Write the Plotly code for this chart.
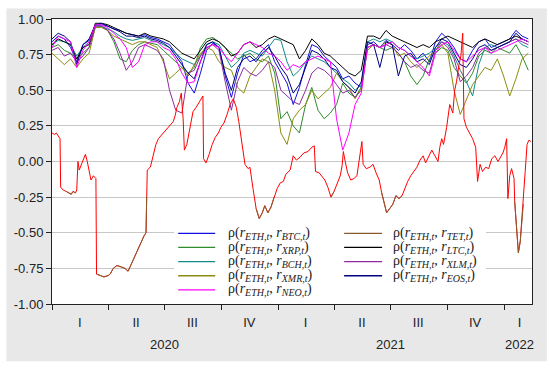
import numpy as np
import pandas as pd
import plotly.graph_objects as go

start = pd.Timestamp("2020-01-01")
end = "2022-02-15"
grid_dates = pd.date_range(start, periods=78, freq="10D")

btc = [0.84,0.88,0.86,0.80,0.70,0.82,0.85,0.95,0.96,0.95,
       0.93,0.92,0.90,0.89,0.88,0.89,0.87,0.86,0.84,0.82,
       0.76,0.70,0.55,0.48,0.62,0.78,0.83,0.80,0.60,0.45,
       0.62,0.75,0.70,0.72,0.78,0.82,0.70,0.62,0.55,0.40,
       0.52,0.68,0.82,0.80,0.74,0.70,0.66,0.58,0.60,0.55,
       0.52,0.82,0.84,0.80,0.85,0.82,0.78,0.82,0.78,0.72,
       0.76,0.70,0.84,0.90,0.86,0.80,0.72,0.70,0.78,0.84,
       0.86,0.80,0.82,0.84,0.86,0.92,0.88,0.86]
xrp = [0.80,0.82,0.78,0.76,0.72,0.76,0.80,0.94,0.95,0.92,
       0.84,0.72,0.70,0.78,0.82,0.84,0.83,0.82,0.78,0.74,
       0.70,0.66,0.62,0.66,0.80,0.86,0.87,0.84,0.80,0.76,
       0.72,0.74,0.76,0.72,0.70,0.74,0.62,0.30,0.35,0.25,
       0.20,0.40,0.52,0.36,0.30,0.34,0.40,0.55,0.48,0.45,
       0.52,0.80,0.82,0.80,0.78,0.80,0.76,0.70,0.60,0.54,
       0.60,0.72,0.76,0.80,0.78,0.66,0.60,0.55,0.62,0.74,
       0.78,0.76,0.80,0.78,0.76,0.82,0.74,0.64]
bch = [0.82,0.85,0.84,0.82,0.74,0.80,0.84,0.96,0.95,0.93,
       0.91,0.88,0.86,0.85,0.86,0.87,0.85,0.84,0.82,0.80,
       0.76,0.72,0.70,0.68,0.74,0.82,0.84,0.82,0.74,0.66,
       0.70,0.76,0.78,0.76,0.74,0.80,0.86,0.85,0.70,0.60,
       0.64,0.70,0.74,0.72,0.70,0.66,0.62,0.58,0.55,0.50,
       0.54,0.84,0.86,0.84,0.86,0.84,0.80,0.78,0.74,0.72,
       0.74,0.76,0.80,0.84,0.82,0.74,0.64,0.56,0.46,0.68,
       0.80,0.82,0.80,0.82,0.84,0.86,0.82,0.80]
xmr = [0.76,0.72,0.68,0.72,0.66,0.72,0.76,0.94,0.94,0.92,
       0.88,0.86,0.84,0.82,0.84,0.84,0.82,0.80,0.70,0.58,
       0.62,0.66,0.60,0.68,0.76,0.80,0.78,0.70,0.66,0.64,
       0.52,0.48,0.60,0.66,0.72,0.70,0.50,0.20,0.12,0.30,
       0.36,0.40,0.50,0.44,0.48,0.52,0.62,0.56,0.52,0.44,
       0.52,0.78,0.82,0.80,0.84,0.82,0.74,0.76,0.70,0.66,
       0.70,0.74,0.78,0.82,0.76,0.50,0.33,0.44,0.54,0.60,
       0.66,0.64,0.72,0.60,0.46,0.58,0.72,0.76]
neo = [0.80,0.88,0.86,0.84,0.66,0.78,0.84,0.96,0.96,0.94,
       0.90,0.86,0.80,0.66,0.70,0.82,0.84,0.84,0.80,0.78,
       0.72,0.62,0.55,0.56,0.70,0.80,0.82,0.80,0.74,0.70,
       0.76,0.82,0.84,0.82,0.80,0.76,0.74,0.70,0.64,0.68,
       0.66,0.70,0.72,0.74,0.72,0.70,0.30,0.08,0.20,0.40,
       0.48,0.80,0.82,0.80,0.82,0.84,0.80,0.78,0.74,0.70,
       0.66,0.60,0.76,0.82,0.84,0.78,0.72,0.70,0.74,0.78,
       0.80,0.76,0.78,0.80,0.82,0.84,0.86,0.84]
ltc = [0.82,0.86,0.84,0.82,0.72,0.80,0.82,0.97,0.97,0.96,
       0.94,0.92,0.90,0.89,0.88,0.90,0.88,0.87,0.86,0.84,
       0.80,0.76,0.74,0.72,0.78,0.84,0.86,0.84,0.80,0.74,
       0.76,0.82,0.84,0.80,0.82,0.86,0.88,0.86,0.84,0.82,
       0.72,0.78,0.86,0.82,0.76,0.74,0.70,0.66,0.62,0.60,
       0.64,0.88,0.88,0.86,0.92,0.88,0.86,0.84,0.82,0.80,
       0.82,0.80,0.84,0.86,0.88,0.86,0.84,0.82,0.80,0.84,
       0.86,0.84,0.82,0.84,0.86,0.88,0.86,0.84]
xlm = [0.78,0.80,0.74,0.76,0.70,0.74,0.80,0.95,0.95,0.92,
       0.86,0.76,0.64,0.70,0.80,0.82,0.80,0.78,0.72,0.50,
       0.36,0.34,0.62,0.64,0.74,0.80,0.82,0.78,0.56,0.36,
       0.56,0.66,0.62,0.60,0.64,0.70,0.66,0.50,0.46,0.42,
       0.40,0.50,0.62,0.66,0.64,0.60,0.54,0.48,0.50,0.45,
       0.50,0.80,0.82,0.80,0.82,0.80,0.76,0.70,0.66,0.68,
       0.64,0.62,0.78,0.84,0.80,0.72,0.56,0.60,0.66,0.76,
       0.80,0.78,0.80,0.82,0.84,0.86,0.84,0.82]
eos = [0.86,0.90,0.88,0.84,0.68,0.82,0.86,0.96,0.97,0.95,
       0.93,0.91,0.88,0.88,0.87,0.88,0.86,0.85,0.83,0.80,
       0.74,0.68,0.62,0.58,0.70,0.82,0.84,0.80,0.62,0.50,
       0.66,0.72,0.74,0.70,0.76,0.80,0.74,0.66,0.60,0.48,
       0.54,0.66,0.78,0.76,0.72,0.66,0.64,0.56,0.52,0.48,
       0.56,0.84,0.82,0.66,0.84,0.82,0.60,0.74,0.76,0.70,
       0.72,0.68,0.80,0.86,0.84,0.76,0.68,0.66,0.72,0.80,
       0.82,0.78,0.80,0.82,0.84,0.90,0.86,0.84]

tet_days = [0,4,7,10,13,14,18,23,28,31,
            34,38,40,42,44,47,51,54,57,60,
            63,67,71,72,78,84,91,94,99,105,
            112,118,123,128,134,139,144,149,152,153,
            154,159,164,168,172,178,183,188,193,196,
            199,202,206,209,212,214,218,223,228,233,
            238,241,244,245,249,254,259,264,269,273,
            278,283,288,293,298,302,307,312,317,320,
            325,330,335,340,344,349,354,359,364,369,
            374,378,385,390,395,401,407,414,420,424,
            426,432,436,441,446,451,456,461,466,469,
            471,474,478,483,488,493,498,501,503,508,
            514,519,524,529,533,538,541,546,551,556,
            561,566,571,575,580,585,590,595,600,604,
            609,614,619,624,627,630,633,638,643,648,
            651,654,658,661,664,666,670,675,680,685,
            688,692,696,701,706,711,716,721,726,729,
            732,735,737,740,743,747,748,752,754,757,
            759,762,765,768,771,774]
tet = [0.20,0.19,0.20,0.18,0.16,-0.18,-0.20,-0.21,-0.22,-0.23,
       -0.21,-0.22,-0.20,0.00,-0.06,-0.03,0.02,0.05,0.00,-0.07,
       -0.13,-0.10,-0.12,-0.79,-0.80,-0.81,-0.80,-0.79,-0.75,-0.73,
       -0.74,-0.75,-0.77,-0.72,-0.67,-0.62,-0.57,-0.52,-0.50,-0.25,
       -0.06,-0.04,0.06,0.12,0.16,0.19,0.21,0.24,0.26,0.28,
       0.32,0.38,0.42,0.48,0.30,0.08,0.12,0.25,0.35,0.38,
       0.42,0.44,0.46,0.02,-0.01,0.05,0.12,0.17,0.20,0.24,
       0.27,0.33,0.40,0.44,0.38,0.28,0.12,-0.02,-0.05,-0.04,
       -0.19,-0.33,-0.40,-0.36,-0.31,-0.36,-0.32,-0.25,-0.19,-0.15,
       -0.14,-0.09,-0.06,0.04,0.01,0.03,0.06,0.07,0.10,0.11,
       -0.07,-0.08,-0.10,-0.13,-0.18,-0.25,-0.21,-0.16,-0.10,-0.03,
       0.07,0.00,-0.08,-0.13,-0.12,-0.10,0.05,0.14,-0.02,-0.05,
       -0.04,-0.02,-0.08,-0.13,-0.22,-0.30,-0.36,-0.33,-0.30,-0.24,
       -0.26,-0.24,-0.18,-0.14,-0.10,-0.07,-0.04,0.01,0.04,-0.01,
       0.03,0.08,0.04,0.00,0.10,0.16,0.12,0.24,0.40,0.34,
       0.50,0.56,0.68,0.74,0.90,0.30,0.24,0.20,0.16,0.10,
       -0.14,-0.02,-0.07,-0.04,-0.05,0.02,0.04,0.00,0.04,0.06,
       0.10,0.16,-0.26,-0.10,-0.05,-0.12,-0.28,-0.58,-0.64,-0.56,
       -0.45,-0.30,-0.07,0.12,0.15,0.14]
tet_dates = start + pd.to_timedelta(tet_days, unit="D")

quarter_mid = ["2020-02-15", "2020-05-16", "2020-08-15", "2020-11-15",
               "2021-02-14", "2021-05-16", "2021-08-15", "2021-11-15", "2022-01-26"]
quarter_labels = ["I", "II", "III", "IV", "I", "II", "III", "IV", "I"]
year_pos = ["2020-07-01", "2021-07-01", "2022-01-26"]
year_labels = ["2020", "2021", "2022"]
y_ticks = [-1, -0.75, -0.5, -0.25, 0, 0.25, 0.5, 0.75, 1]
y_ticklabels = ["-1.00", "-0.75", "-0.50", "-0.25", "0.00", "0.25", "0.50", "0.75", "1.00"]

legend_col1 = ["BTC", "XRP", "BCH", "XMR", "NEO"]
legend_col2 = ["TET", "LTC", "XLM", "EOS"]

colors = {"BTC": "#1010e0", "XRP": "#2e8b2e", "BCH": "#138a8a", "XMR": "#8c8c10",
          "NEO": "#ff00ff", "TET": "#8b5a2b", "LTC": "#000000", "XLM": "#8e2a9e",
          "EOS": "#000080"}


def lab(c):
    big = "<span style='font-style:italic;font-size:14px'>r</span>"
    def sub(s):
        return f"<sub><span style='font-style:italic;font-size:10px'>{s}</span></sub>"
    return f"ρ({big}{sub('ETH,t')}, {big}{sub(c + ',t')})"


fig = go.Figure()
upper = [("BTC", btc), ("XRP", xrp), ("BCH", bch), ("XMR", xmr),
         ("LTC", ltc), ("XLM", xlm), ("EOS", eos), ("NEO", neo)]
for name, vals in upper:
    fig.add_trace(go.Scatter(x=grid_dates, y=vals, mode="lines", name=f"ETH-{name}",
                             line=dict(color=colors[name], width=1), showlegend=False))

fig.add_trace(go.Scatter(x=tet_dates, y=tet, mode="lines", name="ETH-TET",
                         line=dict(color="#ff0000", width=1), showlegend=False))
tet_low = [v if v < -0.2 else None for v in tet]
fig.add_trace(go.Scatter(x=tet_dates, y=tet_low, mode="lines", name="ETH-TET",
                         line=dict(color=colors["TET"], width=1), showlegend=False,
                         connectgaps=False))

for xp, yl in zip(year_pos, year_labels):
    fig.add_annotation(x=xp, y=-0.142, xref="x", yref="paper", text=yl, showarrow=False,
                       font=dict(size=13, color="#222"), yanchor="middle")

# key drawn inside the plot, as in the original
L, T, W, H = 51.7, 15.7, 480.3, 288.3
px = lambda v: (v - L) / W
py = lambda v: (T + H - v) / H
shapes = [
    dict(type="rect", xref="paper", yref="paper", x0=-0.095, x1=1.031, y0=-0.201, y1=1.037,
         fillcolor="#e8e8e8", line=dict(width=0), layer="below"),
    dict(type="rect", xref="paper", yref="paper", x0=0, x1=1, y0=0, y1=1,
         fillcolor="white", line=dict(width=0), layer="below"),
    dict(type="rect", xref="paper", yref="paper", x0=px(174), x1=px(486), y0=py(298), y1=py(225),
         fillcolor="white", line=dict(width=0), layer="above"),
]
row_y = [232.5, 246.8, 261.1, 275.4, 289.7]
legfont = dict(family="Liberation Serif, DejaVu Serif, serif", size=14, color="#222")
for col, (x_line0, x_line1, x_text) in zip([legend_col1, legend_col2],
                                            [(178, 215, 226), (344, 382, 391)]):
    for i, name in enumerate(col):
        shapes.append(dict(type="line", xref="paper", yref="paper", x0=px(x_line0), x1=px(x_line1),
                           y0=py(row_y[i]), y1=py(row_y[i]),
                           line=dict(color=colors[name], width=1.3), layer="above"))
        fig.add_annotation(x=px(x_text), y=py(row_y[i]), xref="paper", yref="paper",
                           text=lab(name), showarrow=False, xanchor="left", yanchor="middle",
                           font=legfont)

fig.update_layout(
    width=550, height=369,
    margin=dict(l=L, r=550 - L - W, t=T, b=369 - T - H),
    paper_bgcolor="white", plot_bgcolor="white",
    font=dict(family="Liberation Sans, Arial, sans-serif", size=13, color="#222"),
    shapes=shapes,
    showlegend=False,
    xaxis=dict(type="date", range=[start, end], tickmode="array", tickvals=quarter_mid,
               ticktext=quarter_labels, ticks="", ticklen=0, showgrid=False, zeroline=False,
               showline=True, linecolor="#222", linewidth=1, mirror=True, ticklabelstandoff=6,
               minor=dict(dtick="M3", tick0="2020-01-01", ticks="outside", ticklen=5,
                          tickcolor="#222", showgrid=False)),
    yaxis=dict(range=[-1, 1], tickmode="array", tickvals=y_ticks, ticktext=y_ticklabels,
               ticks="outside", ticklen=5, tickcolor="#222", showgrid=True, gridcolor="#c8c8c8",
               zeroline=False, showline=True, linecolor="#222", linewidth=1, mirror=True),
)
fig.write_html("out.html", config={"displayModeBar": False},
               post_script="document.body.style.margin='0';")
